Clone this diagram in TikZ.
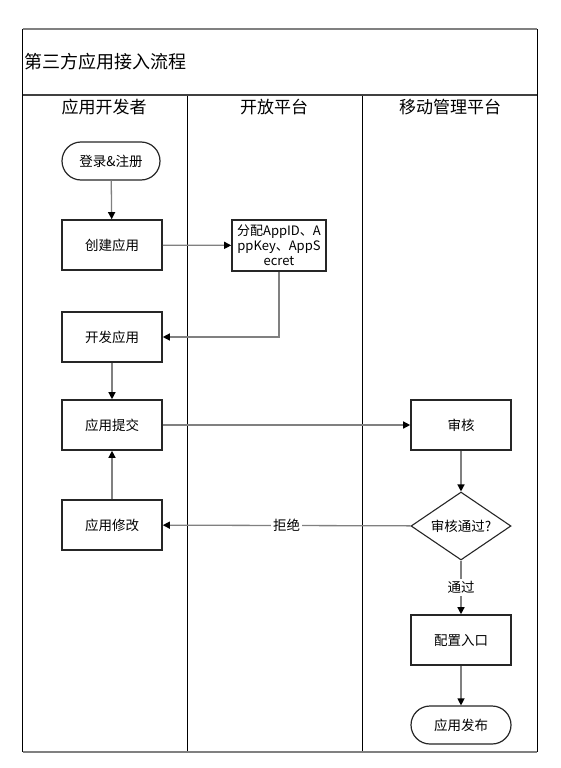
\documentclass[tikz,border=0pt]{standalone}
\usepackage{fontspec}
\setmainfont{Noto Sans CJK SC}
\usetikzlibrary{positioning,arrows.meta,shapes.geometric}

\begin{document}
\begin{tikzpicture}[x=1pt,y=-1pt,
  block/.style={
    rectangle, draw=black!85, line width=1.6pt,
    minimum width=100pt, minimum height=50pt,
    font=\fontsize{13.5}{15.5}\selectfont, align=center,
    fill=white
  },
  terminal/.style={block, rounded corners=19pt, minimum height=38pt,
    line width=1.2pt},
  decision/.style={diamond, draw=black!85, line width=1.1pt, aspect=1.47,
    inner sep=0pt, minimum width=100pt, minimum height=68pt,
    font=\fontsize{13.5}{16}\selectfont, fill=white},
  arr/.style={-{Triangle[length=7pt,width=7pt,color=black]}, draw=gray,
    line width=1.3pt},
  lane/.style={font=\fontsize{17}{20}\selectfont, inner sep=0pt},
  lbl/.style={fill=white, font=\fontsize{13.5}{16}\selectfont, inner sep=2pt}
]
\useasboundingbox (0,0) rectangle (560,768);

% Frame and lanes
\draw[black, line width=0.8pt] (22.5,29) -- (22.5,752) (537,29) -- (537,752);
\draw[black, line width=0.8pt] (187,95) -- (187,752) (362,95) -- (362,752);
\draw[gray, line width=1.6pt] (22.5,29) -- (537,29) (22.5,752) -- (537,752);
\draw[black!75, line width=1.6pt] (22.5,95) -- (537,95);

\node[lane, anchor=west, font=\fontsize{18}{20}\selectfont] (title) at (24,62) {第三方应用接入流程};
\node[lane] (dev) at (104,107) {应用开发者};
\node[lane] (open) at (274,107) {开放平台};
\node[lane] (mgmt) at (450,107) {移动管理平台};

% Blocks
\node[terminal, minimum width=98pt] (login) at (111,161) {登录\&注册};
\node[block] (create) at (112,245) {创建应用};
\node[block, minimum width=94pt, minimum height=51pt, inner sep=1pt,
  font=\fontsize{13}{15}\selectfont] (assign) at (279,245.5)
  {分配AppID、A\\ppKey、AppS\\ecret};
\node[block] (develop) at (112,337) {开发应用};
\node[block] (submit) at (112,425) {应用提交};
\node[block] (modify) at (112,525) {应用修改};
\node[block] (review) at (461,425) {审核};
\node[decision] (pass) at (461,526) {审核通过?};
\node[block] (entry) at (461,640) {配置入口};
\node[terminal, minimum width=100pt] (publish) at (461,725) {应用发布};

% Edges
\draw[arr] (login) -- (create);
\draw[arr] (create) -- (assign);
\draw[arr] (assign.south) |- (develop);
\draw[arr] (develop) -- (submit);
\draw[arr] (submit) -- (review);
\draw[arr] (review) -- (pass);
\draw[arr] (pass) -- node[lbl] {拒绝} (modify);
\draw[arr] (pass) -- node[lbl] {通过} (entry);
\draw[arr] (entry) -- (publish);
\draw[arr] (modify) -- (submit);

\end{tikzpicture}
\end{document}
